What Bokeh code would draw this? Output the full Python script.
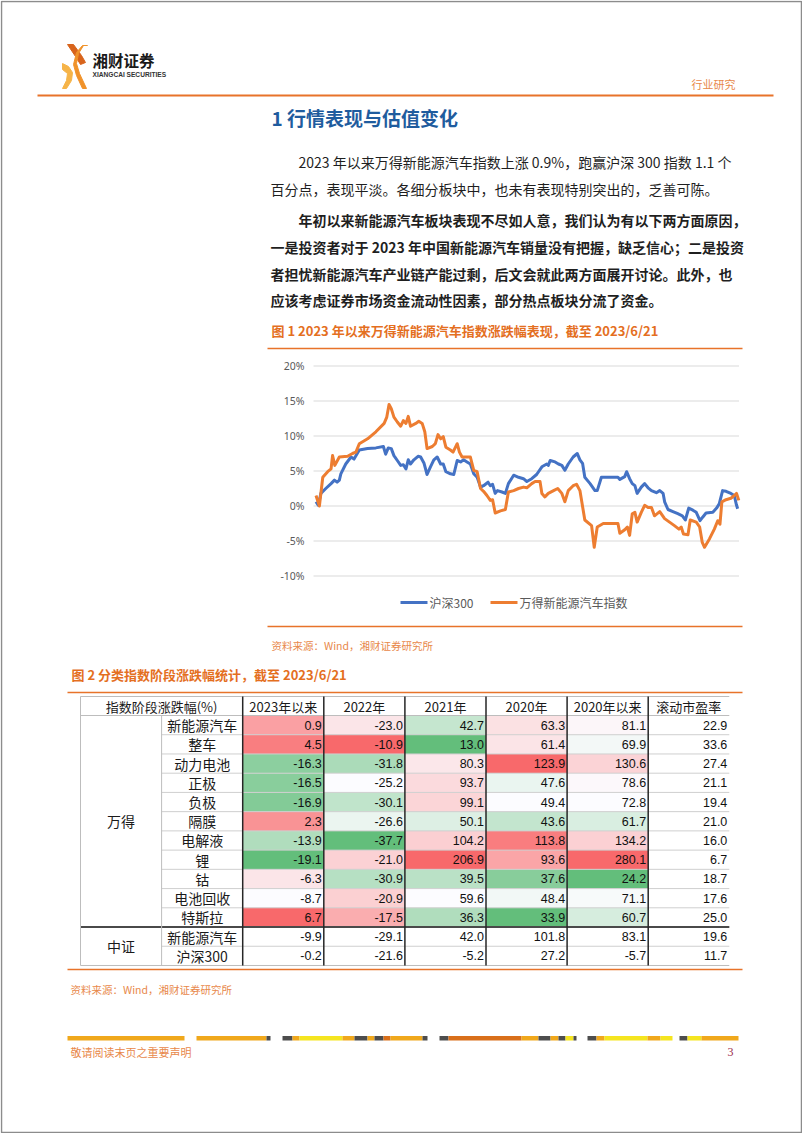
from bokeh.plotting import figure
from bokeh.models import Range1d
from bokeh.core.properties import value
from bokeh.embed import file_html
from bokeh.resources import INLINE

# ---------------- data ----------------
nev_days = [0, 0.9, 1.8, 3.1, 4.0, 4.4, 5.0, 6.2, 8.4, 9.7, 10.6, 11.5, 13.7, 15.9, 18.1, 18.8,
            19.4, 20.0, 20.7, 21.6, 22.5, 23.2, 23.9, 24.5, 25.1, 26.5, 27.3, 28.2, 28.9, 29.5,
            30.9, 31.7, 32.4, 33.1, 33.8, 34.5, 35.7, 36.4, 37.5, 38.1, 38.8, 41.0, 41.9, 42.8,
            43.7, 44.5, 45.4, 46.3, 46.9, 47.6, 49.0, 50.3, 51.1, 52.5, 53.8, 55.1, 56.0, 57.3,
            58.2, 59.5, 60.0, 60.8, 61.7, 63.1, 64.2, 65.3, 66.1, 67.0, 68.3, 69.2, 70.1, 71.4,
            73.2, 73.9, 74.7, 76.3, 80.2, 80.7, 82.0, 82.7, 83.3, 84.0, 84.7, 85.3, 86.4, 87.3,
            88.2, 89.1, 89.9, 91.3, 92.6, 93.9, 95.2, 96.4, 97.0, 97.6, 98.8, 99.4, 101.0, 101.9,
            102.6, 103.2, 104.5, 105.8, 106.7, 107.3, 107.8, 108.9, 110.2, 111.1, 111.7, 112.3]
nev_vals = [1.5, 0.0, 4.1, 4.9, 5.3, 7.2, 5.8, 7.0, 7.1, 7.5, 7.7, 8.9, 9.6, 10.6, 11.8, 12.7,
            14.5, 13.9, 12.7, 12.0, 11.4, 12.2, 11.8, 12.8, 11.4, 11.8, 12.1, 11.8, 10.6, 8.2,
            8.5, 8.9, 10.2, 9.6, 9.9, 8.4, 8.0, 7.7, 8.9, 7.7, 7.0, 7.0, 5.1, 4.9,
            2.5, 2.1, 1.5, 0.8, 0.9, -1.0, -0.7, -0.5, 2.0, 2.2, 2.5, 2.7, 2.6, 3.2,
            3.5, 3.5, 1.8, 1.3, 1.8, 2.2, 2.5, 1.8, 0.6, 2.2, 2.9, 3.1, 2.2, -2.0,
            -2.8, -5.9, -3.0, -2.5, -2.5, -3.9, -3.4, -3.0, -4.2, -1.1, -0.9, -2.3, -0.9, 0.1,
            -0.2, -0.2, -1.4, -0.8, -1.8, -2.3, -2.8, -3.3, -3.0, -4.0, -4.1, -2.0, -2.3, -3.0,
            -5.2, -5.9, -4.7, -3.3, -2.1, -2.6, 0.6, 0.9, 1.1, 1.5, 1.8, 0.8]

hs300_days = [0, 0.6, 1.3, 2.6, 4.0, 4.9, 5.6, 6.2, 6.6, 7.9, 9.3, 10.1, 11.5, 13.7, 15.9, 17.9,
              18.5, 19.2, 20.0, 20.7, 21.6, 22.5, 23.2, 23.9, 24.5, 25.1, 26.0, 27.1, 27.8, 28.7,
              29.5, 30.4, 31.3, 32.2, 33.1, 33.8, 34.5, 35.7, 36.6, 37.5, 38.4, 39.2, 40.1, 41.0,
              41.9, 42.8, 43.7, 44.5, 45.7, 46.3, 46.9, 47.6, 48.2, 49.4, 50.3, 51.1, 52.5, 53.8,
              55.1, 56.0, 57.3, 58.6, 60.0, 61.3, 61.7, 62.2, 63.5, 64.4, 65.3, 66.1, 67.0, 68.3,
              69.4, 70.1, 70.8, 71.4, 72.8, 74.1, 74.7, 75.8, 80.2, 80.7, 82.0, 82.5, 83.3, 84.0,
              84.7, 85.3, 86.4, 87.3, 88.2, 89.1, 90.4, 91.3, 92.2, 92.6, 93.5, 94.8, 96.1, 97.3,
              98.1, 99.0, 100.1, 101.0, 102.0, 102.7, 103.6, 105.4, 106.4, 107.1, 108.0, 108.9,
              110.2, 111.1, 111.7, 112.0]
hs300_vals = [0.6, 0.1, 1.8, 2.5, 3.2, 3.7, 3.4, 3.7, 4.6, 6.0, 7.0, 6.7, 8.0, 8.2, 8.3, 8.5,
              7.4, 8.3, 8.2, 7.2, 6.5, 5.8, 5.9, 5.3, 6.6, 6.0, 6.6, 7.1, 7.0, 6.1,
              4.5, 5.6, 6.6, 7.0, 6.0, 6.0, 4.9, 4.6, 4.5, 6.5, 6.3, 6.6, 6.3, 6.0,
              4.6, 4.1, 2.7, 2.9, 3.4, 2.9, 3.1, 1.8, 2.2, 2.0, 1.8, 3.2, 4.4, 4.1,
              3.9, 3.5, 3.9, 4.5, 5.6, 6.0, 5.8, 6.5, 6.3, 6.0, 5.8, 5.1, 6.0, 7.0,
              7.5, 6.6, 6.1, 4.1, 3.2, 2.2, 2.2, 4.1, 4.1, 3.8, 4.2, 4.9, 3.9, 3.2,
              2.9, 1.8, 2.7, 3.2, 2.6, 2.2, 1.9, 2.2, 1.8, 0.6, -0.5, -0.8, -1.1, -1.4,
              -2.0, -0.3, -0.6, -0.9, -2.1, -1.6, -1.0, -0.9, -0.3, 0.3, 2.2, 2.1,
              1.8, 1.5, 0.1, -0.4]

y_ticks = [20, 15, 10, 5, 0, -5, -10]
y_tick_labels = ["20%", "15%", "10%", "5%", "0%", "-5%", "-10%"]
legend_labels = ["沪深300", "万得新能源汽车指数"]

table_header = ["指数阶段涨跌幅(%)", "2023年以来", "2022年", "2021年", "2020年", "2020年以来", "滚动市盈率"]
groups = ["万得", "中证"]
group_sizes = [11, 2]
row_names = ["新能源汽车", "整车", "动力电池", "正极", "负极", "隔膜", "电解液", "锂", "钴",
             "电池回收", "特斯拉", "新能源汽车", "沪深300"]
col_2023 = [0.9, 4.5, -16.3, -16.5, -16.9, 2.3, -13.9, -19.1, -6.3, -8.7, 6.7, -9.9, -0.2]
col_2022 = [-23.0, -10.9, -31.8, -25.2, -30.1, -26.6, -37.7, -21.0, -30.9, -20.9, -17.5, -29.1, -21.6]
col_2021 = [42.7, 13.0, 80.3, 93.7, 99.1, 50.1, 104.2, 206.9, 39.5, 59.6, 36.3, 42.0, -5.2]
col_2020 = [63.3, 61.4, 123.9, 47.6, 49.4, 43.6, 113.8, 93.6, 37.6, 48.4, 33.9, 101.8, 27.2]
col_since2020 = [81.1, 69.9, 130.6, 78.6, 72.8, 61.7, 134.2, 280.1, 24.2, 71.1, 60.7, 83.1, -5.7]
col_pe = [22.9, 33.6, 27.4, 21.1, 19.4, 21.0, 16.0, 6.7, 18.7, 17.6, 25.0, 19.6, 11.7]

# ---------------- page ----------------
W, H = 802, 1133
p = figure(width=W, height=H, x_range=Range1d(0, W), y_range=Range1d(H, 0),
           output_backend="svg", toolbar_location=None, min_border=0,
           x_axis_location=None, y_axis_location=None)
p.grid.visible = False
p.outline_line_color = None
p.background_fill_color = "white"
p.border_fill_color = "white"

CJK = "Noto Sans CJK SC"
ORANGE = "#E46F1F"
ORANGE_L = "#E8884A"


def txt(x, y, s, size, color, bold=False, font=CJK, align="left", **kw):
    p.text(x=[x], y=[y], text=[s], text_font=value(font), text_font_size=f"{size}px",
           text_color=color, text_font_style="bold" if bold else "normal",
           text_align=align, text_baseline="middle", **kw)


# page border
p.rect(x=[W / 2], y=[H / 2], width=W - 2, height=H - 2, fill_color=None,
       line_color="#8c8c8c", line_width=1.5)

# logo
p.patch([67, 73, 81, 85, 80, 75], [44, 44, 55, 62, 64, 56], color="#D8641C")
p.patch([87, 83, 78, 76, 79, 86, 82, 76, 73, 76, 82], [45, 45, 53, 63, 73, 88, 88, 75, 64, 52, 45], color="#F0922A")
p.patch([62, 68, 72, 71, 66, 62, 66, 67, 62], [63, 66, 72, 80, 88, 88, 80, 73, 69], color="#F6B448")
txt(92, 59, "湘财证券", 15.5, "#1a1a1a", bold=True)
txt(92, 74, "XIANGCAI SECURITIES", 6.6, "#333333", bold=True, font="Liberation Sans")
txt(735, 83, "行业研究", 11, ORANGE_L, align="right")
p.segment(x0=[37], y0=[95], x1=[773], y1=[95], line_color="#E8732A", line_width=2)

# title & paragraphs
txt(271, 117, "1 行情表现与估值变化", 19, "#1F5C9E", bold=True)
TXT = "#1f1f1f"
txt(298, 161, "2023 年以来万得新能源汽车指数上涨 0.9%，跑赢沪深 300 指数 1.1 个", 14, TXT)
txt(270, 188, "百分点，表现平淡。各细分板块中，也未有表现特别突出的，乏善可陈。", 14, TXT)
txt(298, 219, "年初以来新能源汽车板块表现不尽如人意，我们认为有以下两方面原因，", 14, TXT, bold=True)
txt(270, 246, "一是投资者对于 2023 年中国新能源汽车销量没有把握，缺乏信心；二是投资", 14, TXT, bold=True)
txt(270, 273, "者担忧新能源汽车产业链产能过剩，后文会就此两方面展开讨论。此外，也", 14, TXT, bold=True)
txt(270, 299, "应该考虑证券市场资金流动性因素，部分热点板块分流了资金。", 14, TXT, bold=True)

# figure 1 caption
txt(271, 330, "图 1 2023 年以来万得新能源汽车指数涨跌幅表现，截至 2023/6/21", 13, ORANGE, bold=True)
p.segment(x0=[267], y0=[348], x1=[742], y1=[348], line_color="#E8732A", line_width=1.5)

# ---------------- line chart (extra ranges mapped into a sub-rectangle) ----------------
CH_X0, CH_X1, DAY_MAX = 315.5, 738.3, 112.3
k = DAY_MAX / (CH_X1 - CH_X0)
Y0, PX_PER_PCT = 505.5, 7.0
p.extra_x_ranges = {"day": Range1d(-CH_X0 * k, (W - CH_X0) * k)}
p.extra_y_ranges = {"pct": Range1d((Y0 - H) / PX_PER_PCT, Y0 / PX_PER_PCT)}

g0, g1 = (313 - CH_X0) * k, (738.5 - CH_X0) * k
p.segment(x0=[g0] * len(y_ticks), x1=[g1] * len(y_ticks), y0=y_ticks, y1=y_ticks,
          x_range_name="day", y_range_name="pct", line_color="#d9d9d9", line_width=1)
p.text(x=[304] * len(y_ticks), y=y_ticks, text=y_tick_labels, y_range_name="pct",
       text_font=value("Noto Sans"), text_font_size="10.5px", text_color="#595959",
       text_align="right", text_baseline="middle")

BLUE = "#4472C4"
ORG = "#ED7D31"
p.line(hs300_days, hs300_vals, x_range_name="day", y_range_name="pct",
       line_color=BLUE, line_width=3, line_join="round")
p.line(nev_days, nev_vals, x_range_name="day", y_range_name="pct",
       line_color=ORG, line_width=3, line_join="round")

# legend
p.segment(x0=[400], y0=[602], x1=[427], y1=[602], line_color=BLUE, line_width=3)
txt(429, 602, legend_labels[0], 12, "#595959")
p.segment(x0=[490], y0=[602], x1=[517], y1=[602], line_color=ORG, line_width=3)
txt(519, 602, legend_labels[1], 12, "#595959")

p.segment(x0=[267], y0=[626], x1=[742], y1=[626], line_color="#E8732A", line_width=1.5)
txt(271, 645, "资料来源：Wind，湘财证券研究所", 10.5, ORANGE_L)

# ---------------- table ----------------
txt(71, 674, "图 2  分类指数阶段涨跌幅统计，截至 2023/6/21", 13, ORANGE, bold=True)
p.segment(x0=[67], y0=[692], x1=[742], y1=[692], line_color="#E8732A", line_width=1.5)

TX0, CW = 80.0, 81.1
edges = [TX0 + i * CW for i in range(9)]
HT, HH, RH = 696.0, 19.0, 19.23
body_top = HT + HH
n_rows = len(row_names)
row_c = [body_top + (i + 0.5) * RH for i in range(n_rows)]

GREEN, WHITE, RED = (99, 190, 123), (252, 252, 255), (248, 105, 107)


def mix(a, b, t):
    return "#%02x%02x%02x" % tuple(int(round(a[j] + (b[j] - a[j]) * t)) for j in range(3))


def scale_colors(vals):
    s = sorted(vals)
    lo, hi = s[0], s[-1]
    med = s[len(s) // 2]
    out = []
    for v in vals:
        if v <= med:
            t = (v - lo) / (med - lo) if med != lo else 1
            out.append(mix(GREEN, WHITE, t))
        else:
            t = (v - med) / (hi - med)
            out.append(mix(WHITE, RED, t))
    return out


num_cols = [col_2023, col_2022, col_2021, col_2020, col_since2020, col_pe]
n_wind = group_sizes[0]
for ci, col in enumerate(num_cols):
    if ci < 5:
        colors = scale_colors(col[:n_wind]) + ["white"] * (n_rows - n_wind)
    else:
        colors = ["white"] * n_rows
    left = edges[ci + 2]
    right = edges[ci + 3]
    p.quad(left=[left] * n_rows, right=[right] * n_rows,
           top=[body_top + i * RH for i in range(n_rows)],
           bottom=[body_top + (i + 1) * RH for i in range(n_rows)],
           fill_color=colors, line_color=None)
    p.text(x=[right - 2] * n_rows, y=row_c, text=[f"{v:.1f}" for v in col],
           text_font=value("Liberation Sans"), text_font_size="12.5px", text_color="#111111",
           text_align="right", text_baseline="middle")

# row lines
p.segment(x0=[edges[1]] * (n_rows - 1), x1=[edges[8]] * (n_rows - 1),
          y0=[body_top + i * RH for i in range(1, n_rows)],
          y1=[body_top + i * RH for i in range(1, n_rows)],
          line_color="#cfcfcf", line_width=1)
p.segment(x0=[edges[0]] * 3, x1=[edges[8]] * 3, y0=[HT, body_top, body_top + n_rows * RH],
          y1=[HT, body_top, body_top + n_rows * RH], line_color="#bdbdbd", line_width=1)
sep_y = body_top + n_wind * RH
p.segment(x0=[edges[0]], x1=[edges[8]], y0=[sep_y], y1=[sep_y], line_color="#4a4a4a", line_width=2)
# vertical lines
bot = body_top + n_rows * RH
p.segment(x0=[edges[0]], x1=[edges[0]], y0=[HT], y1=[bot], line_color="#bdbdbd", line_width=1)
p.segment(x0=[edges[1]], x1=[edges[1]], y0=[body_top], y1=[bot], line_color="#bdbdbd", line_width=1)
p.segment(x0=edges[2:8], x1=edges[2:8], y0=[HT] * 6, y1=[bot] * 6, line_color="#262626", line_width=1.5)

# header text
hc = HT + HH / 2
txt((edges[0] + edges[2]) / 2, hc, table_header[0], 13, "#1a1a1a", align="center")
p.text(x=[(edges[i] + edges[i + 1]) / 2 for i in range(2, 8)], y=[hc] * 6, text=table_header[1:],
       text_font=value(CJK), text_font_size="13px", text_color="#1a1a1a",
       text_align="center", text_baseline="middle")
# row names & groups
p.text(x=[(edges[1] + edges[2]) / 2] * n_rows, y=row_c, text=row_names,
       text_font=value(CJK), text_font_size="14px", text_color="#1a1a1a",
       text_align="center", text_baseline="middle")
g_start = 0
for g, n in zip(groups, group_sizes):
    gc = body_top + (g_start + n / 2) * RH
    txt((edges[0] + edges[1]) / 2, gc, g, 14, "#1a1a1a", align="center")
    g_start += n

p.segment(x0=[67], y0=[969], x1=[742], y1=[969], line_color="#E8732A", line_width=1.5)
txt(70, 989, "资料来源：Wind，湘财证券研究所", 10.5, ORANGE_L)

# ---------------- footer ----------------
GOLD, YEL, DARK, DOR = "#F0A81C", "#F5E51F", "#4D4D4D", "#D96F1A"
foot = [(67, 184, GOLD), (196, 266, GOLD), (266, 270, DARK), (282, 292, DARK), (292, 299, GOLD),
        (299, 342, YEL), (342, 354, GOLD), (354, 367, DARK), (367, 374, GOLD), (374, 383, DARK),
        (383, 390, DOR), (390, 422, GOLD), (422, 427, DARK), (439, 448, DARK), (448, 521, DOR),
        (521, 538, GOLD), (538, 550, DARK), (550, 558, GOLD), (558, 565, DARK), (565, 573, YEL),
        (573, 576, DARK), (587, 596, DARK), (596, 604, GOLD), (604, 647, YEL), (647, 660, GOLD),
        (660, 672, YEL), (679, 687, DARK), (687, 701, YEL), (701, 738, GOLD)]
p.quad(left=[f[0] for f in foot], right=[f[1] for f in foot], top=[1035.5] * len(foot),
       bottom=[1040] * len(foot), fill_color=[f[2] for f in foot], line_color=None)
txt(70, 1051, "敬请阅读末页之重要声明", 11, ORANGE_L)
txt(733, 1051, "3", 12, "#9B2D4A", font="Liberation Serif", align="right")

open("out.html", "w").write(file_html(p, INLINE))
